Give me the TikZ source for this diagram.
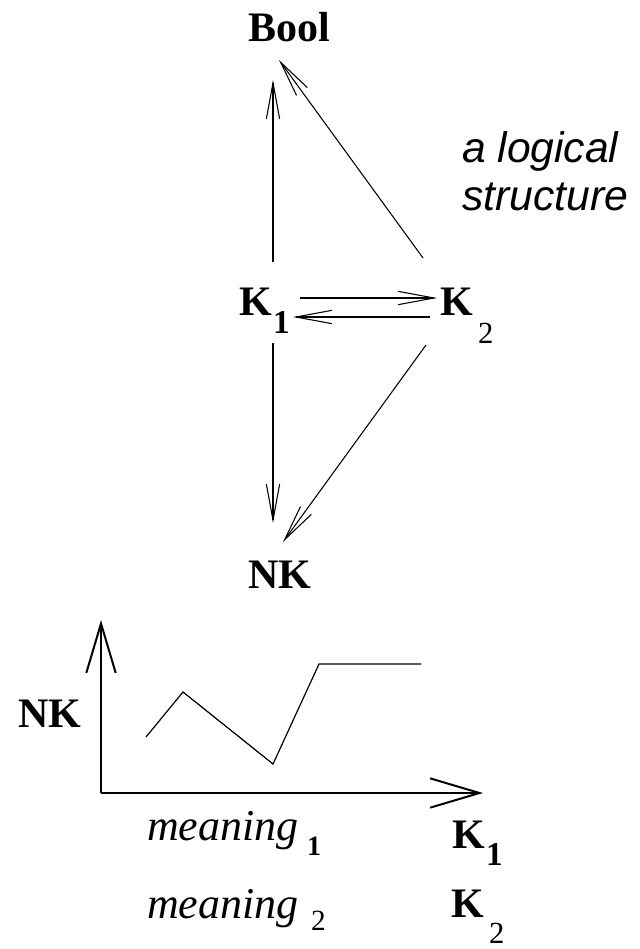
\documentclass[tikz,border=0pt]{standalone}
\usepackage{fontspec}
\setmainfont{Liberation Serif}
\setsansfont{Liberation Sans}
\usetikzlibrary{arrows.meta}
\begin{document}
\begin{tikzpicture}[x=0.75pt,y=-0.75pt,
  lbl/.style={inner sep=0pt, outer sep=0pt, anchor=base west, font=\fontsize{31.5}{36}\selectfont\bfseries},
  note/.style={inner sep=0pt, outer sep=0pt, anchor=base west, font=\fontsize{32}{38}\selectfont\sffamily\itshape},
  mean/.style={inner sep=0pt, outer sep=0pt, anchor=base west, font=\fontsize{33}{38}\selectfont\itshape},
  arr/.style={line width=0.8pt, -{Straight Barb[length=27pt,width=10pt,line width=0.8pt]}},
  axisarr/.style={line width=1.5pt, -{Straight Barb[length=37pt,width=22pt,line width=1.5pt]}},
  curve/.style={line width=0.9pt, line join=miter}]
\useasboundingbox (0,0) rectangle (639,949);
% labels
\node[lbl] (bool) at (248,42) {Bool};
\node[lbl] (k1) at (239,315) {K\kern1pt\raisebox{-13.5pt}{\fontsize{25}{30}\selectfont 1}};
\node[lbl] (k2) at (440,315) {K\kern4pt\raisebox{-21pt}{\fontsize{23}{28}\selectfont\mdseries 2}};
\node[lbl] (nk) at (248,588) {NK};
\node[note] (lg1) at (462,162) {a logical};
\node[note] (lg2) at (462,210) {structure};
% arrow end points
\coordinate (k1n) at (273,262);
\coordinate (boolA) at (273,80);
\coordinate (k2nw) at (423,258);
\coordinate (boolB) at (279,60);
\coordinate (k1e1) at (300,298);
\coordinate (k2w1) at (437,298);
\coordinate (k2w2) at (430,317);
\coordinate (k1e2) at (293,317);
\coordinate (k1s) at (273,343);
\coordinate (nkA) at (273,523);
\coordinate (k2sw) at (426,345);
\coordinate (nkB) at (283,542);
\draw[arr] (k1n) -- (boolA);
\draw[arr] (k2nw) -- (boolB);
\draw[arr] (k1e1) -- (k2w1);
\draw[arr] (k2w2) -- (k1e2);
\draw[arr] (k1s) -- (nkA);
\draw[arr] (k2sw) -- (nkB);
% graph
\coordinate (origin) at (101,793);
\coordinate (ytip) at (101,620);
\coordinate (xtip) at (483,793);
\draw[axisarr] (origin) -- (ytip);
\draw[axisarr] (origin) -- (xtip);
\draw[curve] (146,737) -- (183,692) -- (273,764) -- (319,664) -- (421,664);
\node[lbl] (nkaxis) at (18,727) {NK};
% legend
\node[mean] (m1) at (147,840) {meaning};
\node[lbl, font=\fontsize{21}{25}\selectfont\bfseries] (m1s) at (307,855) {1};
\node[mean] (m2) at (147,918) {meaning};
\node[lbl, font=\fontsize{22}{26}\selectfont] (m2s) at (311,930) {2};
\node[lbl] (kk1) at (452,848) {K\kern1pt\raisebox{-12.75pt}{\fontsize{25}{30}\selectfont 1}};
\node[lbl] (kk2) at (451,917) {K\kern4pt\raisebox{-19.5pt}{\fontsize{23}{28}\selectfont\mdseries 2}};
\end{tikzpicture}
\end{document}
